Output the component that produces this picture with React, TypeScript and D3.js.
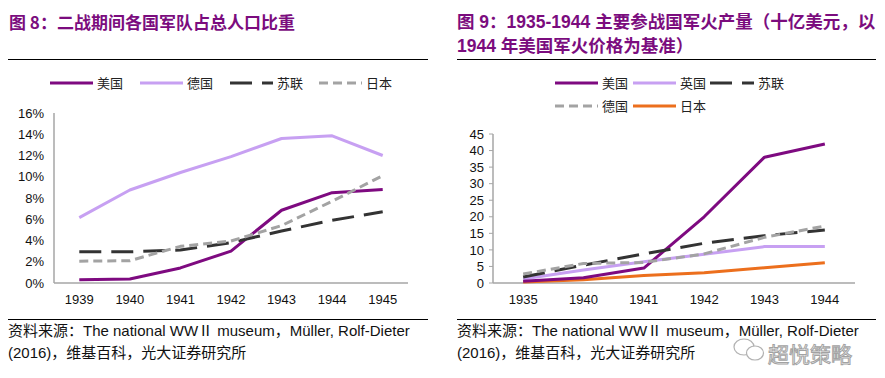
import React from "react";
import * as d3 from "d3";

// ---------- Data: Figure 8 ----------
const yearsL = ["1939", "1940", "1941", "1942", "1943", "1944", "1945"];
const usL = [0.3, 0.38, 1.42, 3.0, 6.85, 8.5, 8.8];
const deL = [6.15, 8.75, 10.4, 11.9, 13.6, 13.85, 12.0];
const suL = [2.94, 2.94, 3.1, 3.8, 4.9, 5.9, 6.7];
const jpL = [2.05, 2.1, 3.45, 3.95, 5.4, 7.7, 10.1];
const yTicksL = [0, 2, 4, 6, 8, 10, 12, 14, 16];

// ---------- Data: Figure 9 ----------
const yearsR = ["1935", "1940", "1941", "1942", "1943", "1944"];
const usR = [0.5, 1.6, 4.5, 20, 38, 42];
const ukR = [1.2, 3.9, 6.4, 8.7, 11, 11];
const suR = [1.8, 5.4, 8.8, 12, 14.3, 16];
const deR = [2.7, 5.9, 6.2, 8.8, 13.8, 17.2];
const jpR = [0.3, 1.0, 2.3, 3.1, 4.6, 6.1];
const yTicksR = [0, 5, 10, 15, 20, 25, 30, 35, 40, 45];

const PURPLE = "#7E0A80";
const LILAC = "#C7A0F2";
const BLACK = "#333333";
const GREY = "#A3A3A3";
const ORANGE = "#EC6F1D";
const TITLE = "#7B0C7E";
const AXIS = "#A6A6A6";

const LATIN = "'Liberation Sans', Arial, 'Noto Sans CJK SC', sans-serif";
const CJK = "'Noto Sans CJK SC', 'Liberation Sans', sans-serif";

type Series = { name: string; values: number[]; color: string; dash?: string };

const seriesL: Series[] = [
  { name: "美国", values: usL, color: PURPLE },
  { name: "德国", values: deL, color: LILAC },
  { name: "苏联", values: suL, color: BLACK, dash: "22 10" },
  { name: "日本", values: jpL, color: GREY, dash: "9 5" },
];

const seriesR: Series[] = [
  { name: "美国", values: usR, color: PURPLE },
  { name: "英国", values: ukR, color: LILAC },
  { name: "苏联", values: suR, color: BLACK, dash: "22 10" },
  { name: "德国", values: deR, color: GREY, dash: "9 5" },
  { name: "日本", values: jpR, color: ORANGE },
];

function LegendItem({ x, y, s, len = 43 }: { x: number; y: number; s: Series; len?: number }) {
  return (
    <g>
      <line x1={x} x2={x + len} y1={y} y2={y} stroke={s.color} strokeWidth={3} strokeDasharray={s.dash} />
      <text x={x + len + 4} y={y} dy="0.36em" fontSize={13} fontFamily={CJK} fill="#222">
        {s.name}
      </text>
    </g>
  );
}

export default function App() {
  // Left chart scales
  const xL = d3.scalePoint<string>().domain(yearsL).range([54, 408]).padding(0.5);
  const yL = d3.scaleLinear().domain([0, 16]).range([283, 113]);
  const lineL = d3
    .line<number>()
    .x((_, i) => xL(yearsL[i]) as number)
    .y((d) => yL(d));

  // Right chart scales
  const xR = d3.scalePoint<string>().domain(yearsR).range([493, 855]).padding(0.5);
  const yR = d3.scaleLinear().domain([0, 45]).range([283, 134]);
  const lineR = d3
    .line<number>()
    .x((_, i) => xR(yearsR[i]) as number)
    .y((d) => yR(d));

  return (
    <svg width={885} height={378} style={{ position: "absolute", left: 0, top: 0, background: "#fff" }}>
      <rect x={0} y={0} width={885} height={378} fill="#fff" />

      {/* Titles */}
      <text x={9} y={29} fontSize={17} fontWeight="bold" fill={TITLE} fontFamily={CJK}>
        图 8：二战期间各国军队占总人口比重
      </text>
      <text x={457} y={28} fontSize={17.5} fontWeight="bold" fill={TITLE} fontFamily={LATIN}>
        图 9：1935-1944 主要参战国军火产量（十亿美元，以
      </text>
      <text x={457} y={52} fontSize={17.5} fontWeight="bold" fill={TITLE} fontFamily={LATIN}>
        1944 年美国军火价格为基准）
      </text>

      {/* Rules */}
      <line x1={8} x2={428} y1={59.5} y2={59.5} stroke="#000" strokeWidth={1} />
      <line x1={457} x2={876} y1={59.5} y2={59.5} stroke="#000" strokeWidth={1} />
      <line x1={8} x2={428} y1={319.5} y2={319.5} stroke="#000" strokeWidth={1} />
      <line x1={457} x2={876} y1={319.5} y2={319.5} stroke="#000" strokeWidth={1} />

      {/* Left legend */}
      <LegendItem x={50} y={83} s={seriesL[0]} />
      <LegendItem x={140} y={83} s={seriesL[1]} />
      <LegendItem x={230} y={83} s={seriesL[2]} />
      <LegendItem x={319} y={83} s={seriesL[3]} />

      {/* Left axes */}
      <line x1={54} x2={54} y1={113} y2={283} stroke={AXIS} strokeWidth={1.5} />
      <line x1={54} x2={408} y1={283} y2={283} stroke={AXIS} strokeWidth={1.5} />
      {yTicksL.map((t) => (
        <text key={t} x={44} y={yL(t)} dy="0.36em" textAnchor="end" fontSize={13} fontFamily={LATIN} fill="#111">
          {t}%
        </text>
      ))}
      {yearsL.map((yr) => (
        <text key={yr} x={xL(yr)} y={299} dy="0.36em" textAnchor="middle" fontSize={13} fontFamily={LATIN} fill="#111">
          {yr}
        </text>
      ))}
      {seriesL.map((s) => (
        <path
          key={s.name}
          d={lineL(s.values) || ""}
          fill="none"
          stroke={s.color}
          strokeWidth={3}
          strokeDasharray={s.dash}
          strokeLinejoin="round"
        />
      ))}

      {/* Right legend */}
      <LegendItem x={555} y={83} s={seriesR[0]} />
      <LegendItem x={633} y={83} s={seriesR[1]} />
      <LegendItem x={710} y={83} s={seriesR[2]} len={44} />
      <LegendItem x={555} y={106} s={seriesR[3]} />
      <LegendItem x={633} y={106} s={seriesR[4]} />

      {/* Right axes */}
      <line x1={493} x2={493} y1={134} y2={283} stroke={AXIS} strokeWidth={1.5} />
      <line x1={493} x2={855} y1={283} y2={283} stroke={AXIS} strokeWidth={1.5} />
      {yTicksR.map((t) => (
        <g key={t}>
          <line x1={489} x2={493} y1={yR(t)} y2={yR(t)} stroke={AXIS} strokeWidth={1} />
          <text x={484} y={yR(t)} dy="0.36em" textAnchor="end" fontSize={13} fontFamily={LATIN} fill="#111">
            {t}
          </text>
        </g>
      ))}
      {yearsR.map((yr) => (
        <text key={yr} x={xR(yr)} y={299} dy="0.36em" textAnchor="middle" fontSize={13} fontFamily={LATIN} fill="#111">
          {yr}
        </text>
      ))}
      {[seriesR[4], seriesR[1], seriesR[0], seriesR[2], seriesR[3]].map((s) => (
        <path
          key={s.name}
          d={lineR(s.values) || ""}
          fill="none"
          stroke={s.color}
          strokeWidth={3}
          strokeDasharray={s.dash}
          strokeLinejoin="round"
        />
      ))}

      {/* Sources */}
      <text x={8} y={336} fontSize={15} fontFamily={LATIN} fill="#111">
        资料来源：The national WWⅡ museum，Müller, Rolf-Dieter
      </text>
      <text x={8} y={358} fontSize={15} fontFamily={LATIN} fill="#111">
        (2016)，维基百科，光大证券研究所
      </text>
      <text x={457} y={336} fontSize={15} fontFamily={LATIN} fill="#111">
        资料来源：The national WWⅡ museum，Müller, Rolf-Dieter
      </text>
      <text x={457} y={358} fontSize={15} fontFamily={LATIN} fill="#111">
        (2016)，维基百科，光大证券研究所
      </text>

      {/* Watermark */}
      <g opacity={0.9}>
        <ellipse cx={744} cy={347} rx={10} ry={8} fill="#fff" stroke="#aaa" strokeWidth={1.2} />
        <ellipse cx={755} cy={353} rx={8.5} ry={7} fill="#fff" stroke="#aaa" strokeWidth={1.2} />
        <text x={768} y={362} fontSize={21} fontFamily={CJK} fill="#fff" stroke="#999" strokeWidth={1}>
          超悦策略
        </text>
      </g>
    </svg>
  );
}
